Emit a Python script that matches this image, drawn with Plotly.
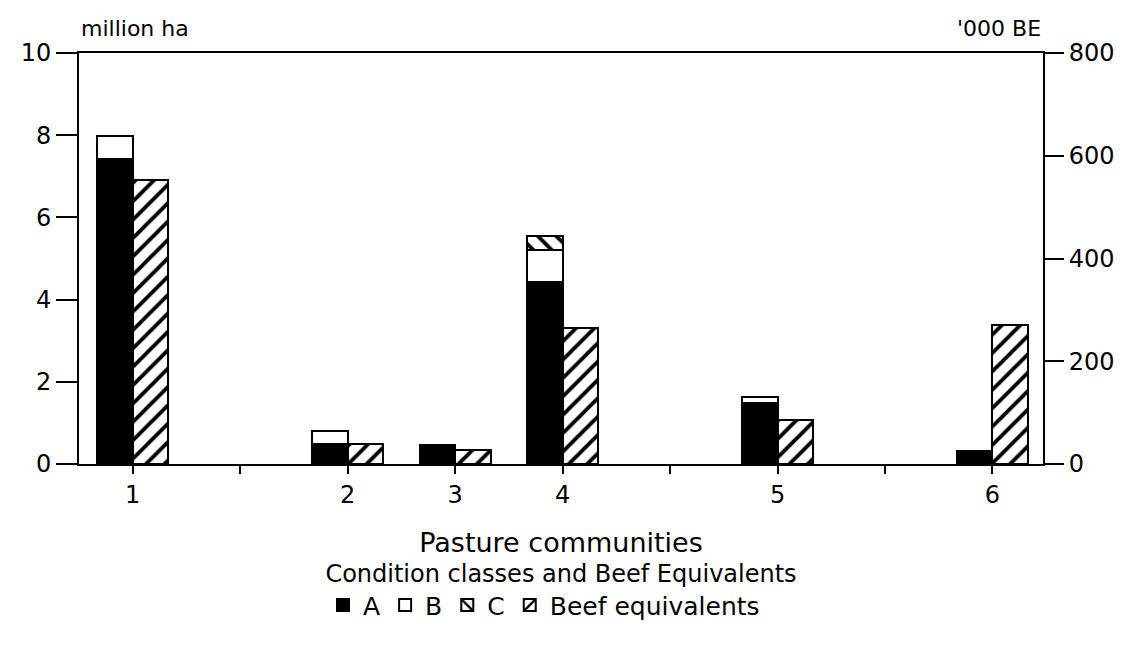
import plotly.graph_objects as go

communities = ["1", "2", "3", "4", "5", "6"]
positions = [1, 3, 4, 5, 7, 9]          # category slots along the x axis
class_a = [7.42, 0.49, 0.46, 4.43, 1.48, 0.32]   # million ha
class_b = [0.56, 0.31, 0.0, 0.78, 0.15, 0.0]
class_c = [0.0, 0.0, 0.0, 0.34, 0.0, 0.0]
beef_eq = [553, 39, 27, 265, 86, 270]            # '000 BE

y_ticks = [0, 2, 4, 6, 8, 10]
y2_ticks = [0, 200, 400, 600, 800]

FONT = "DejaVu Sans"
W = 0.33

def nz(v):
    return [x if x > 0 else None for x in v]

fig = go.Figure()
line = dict(color="black", width=2)
hatch = dict(fgcolor="black", bgcolor="white", fgopacity=1, size=13, solidity=0.3)
fig.add_trace(go.Bar(name="A", x=positions, y=nz(class_a), width=W, offset=-W,
                     marker=dict(color="black", line=line)))
fig.add_trace(go.Bar(name="B", x=positions, y=nz(class_b), width=W, offset=-W,
                     marker=dict(color="white", line=line)))
fig.add_trace(go.Bar(name="C", x=positions, y=nz(class_c), width=W, offset=-W,
                     marker=dict(color="white", line=line, pattern=dict(shape="\\", **hatch))))
fig.add_trace(go.Bar(name="Beef equivalents", x=positions, y=beef_eq, width=W, offset=0,
                     yaxis="y2",
                     marker=dict(color="white", line=line, pattern=dict(shape="/", **hatch))))

fig.update_layout(
    barmode="stack",
    width=1138, height=653,
    margin=dict(l=71, r=103, t=45, b=197),
    paper_bgcolor="white", plot_bgcolor="white",
    font=dict(family=FONT, size=24, color="black"),
    showlegend=True,
    legend=dict(orientation="h", x=0.5, xanchor="center", y=-0.212, yanchor="top",
                title=dict(text="Condition classes and Beef Equivalents", side="top center",
                           font=dict(size=24)),
                font=dict(size=25), traceorder="normal",
                itemwidth=30, tracegroupgap=0),
    xaxis=dict(range=[0.5, 9.47], tickvals=list(range(1, 10)),
               ticktext=["1", "", "2", "3", "4", "", "5", "", "6"],
               ticks="outside", ticklen=8, tickwidth=2, tickcolor="black",
               showline=True, linecolor="black", linewidth=2, mirror=True,
               showgrid=False, zeroline=False,
               tickfont=dict(size=24),
               title=dict(text="Pasture communities", font=dict(size=27), standoff=25)),
    yaxis=dict(range=[0, 10], tickvals=y_ticks, ticks="outside", ticklen=21, tickwidth=2,
               tickcolor="black", showline=True, linecolor="black", linewidth=2,
               showgrid=False, zeroline=False, tickfont=dict(size=24)),
    yaxis2=dict(range=[0, 800], tickvals=y2_ticks, overlaying="y", side="right",
                ticks="outside", ticklen=19, tickwidth=2, tickcolor="black",
                showline=True, linecolor="black", linewidth=2,
                showgrid=False, zeroline=False, tickfont=dict(size=24)),
    annotations=[
        dict(text="million ha", xref="paper", yref="paper", x=0.0, y=1.0, xanchor="left",
             yanchor="bottom", yshift=10, showarrow=False, font=dict(size=22)),
        dict(text="'000 BE", xref="paper", yref="paper", x=1.0, y=1.0, xanchor="right",
             yanchor="bottom", yshift=10, showarrow=False, font=dict(size=22)),
    ],
)

fig.write_html("out.html")
